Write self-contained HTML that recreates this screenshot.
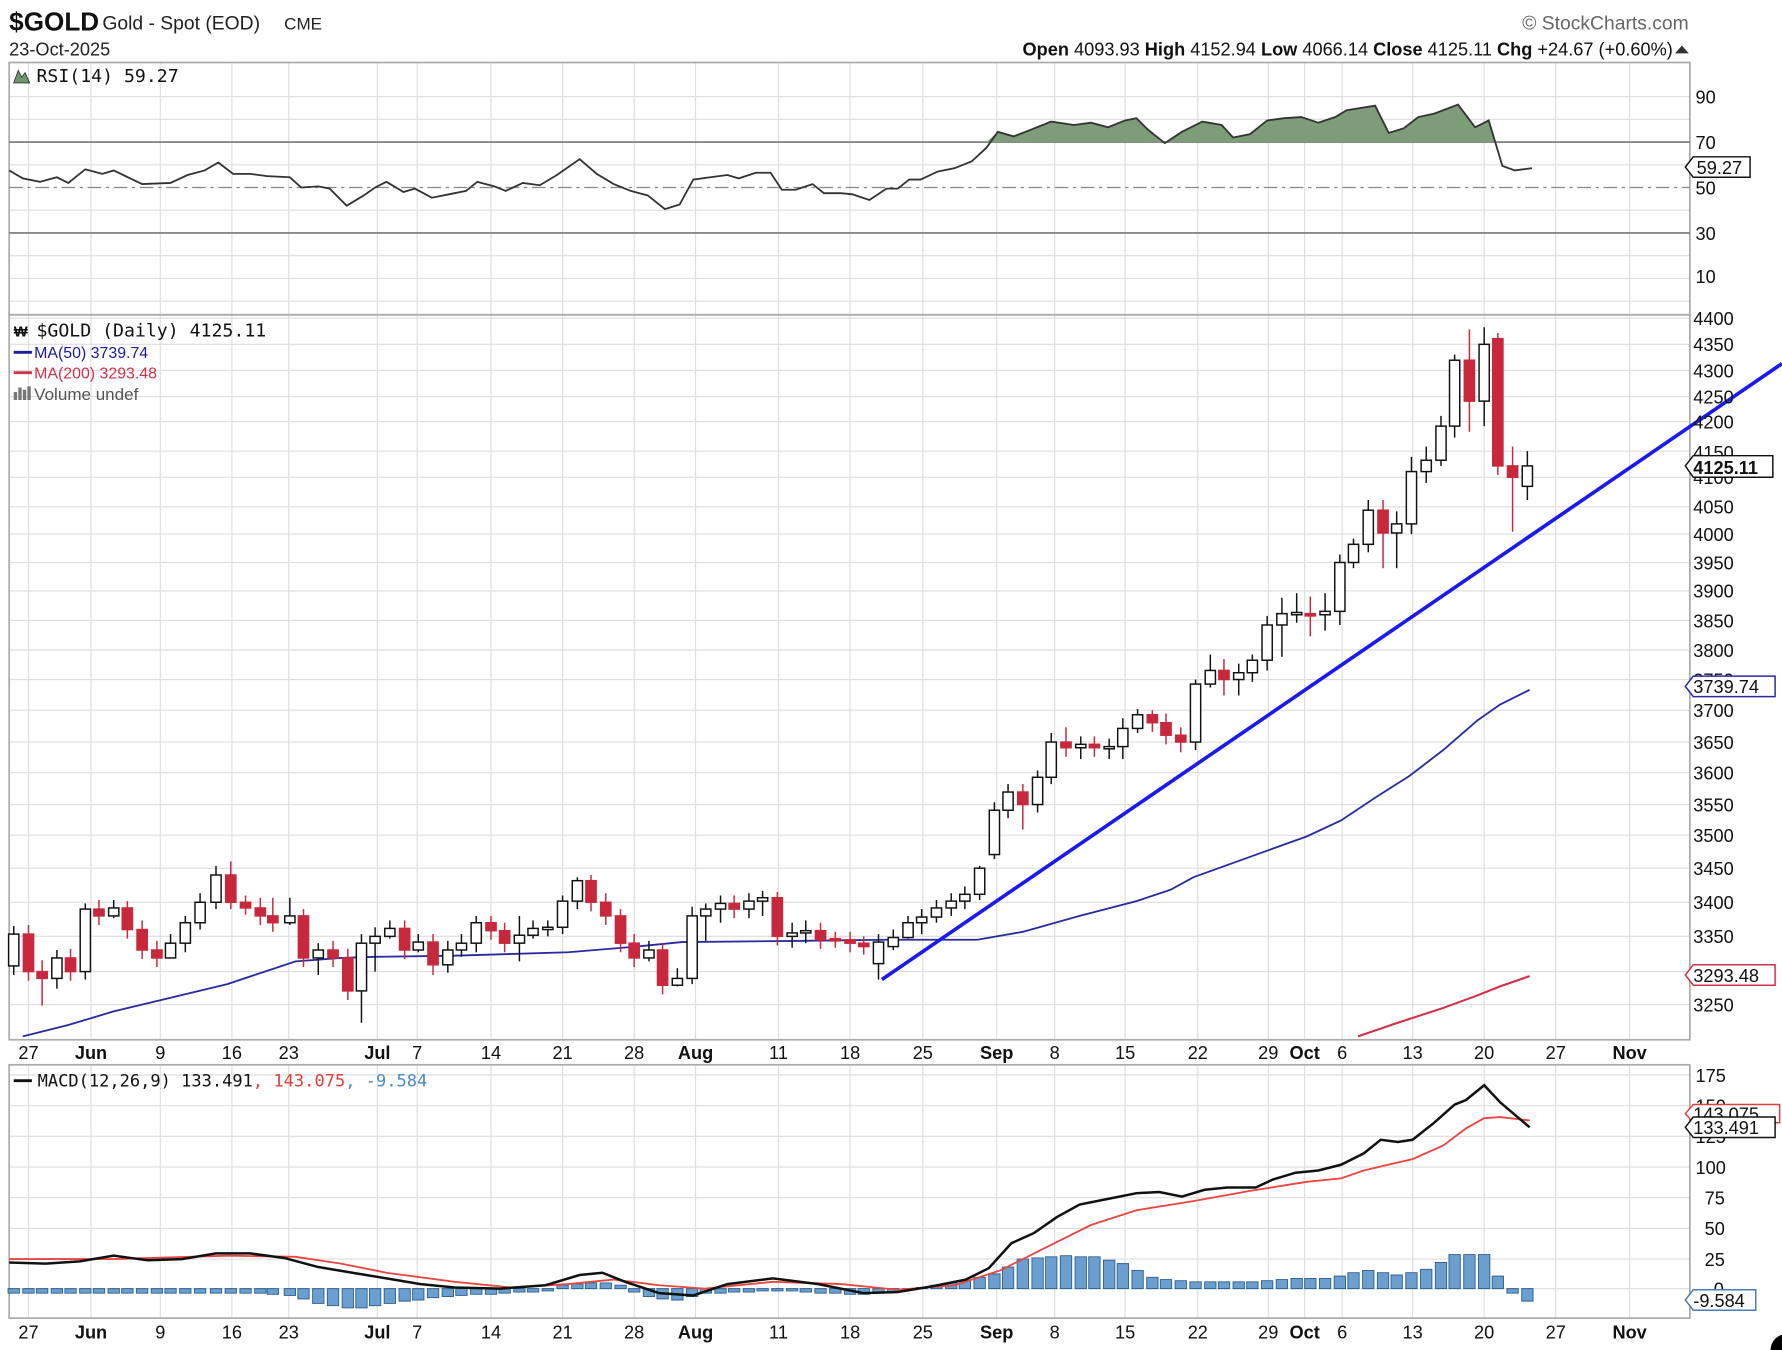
<!DOCTYPE html>
<html><head><meta charset="utf-8"><style>
html,body{margin:0;padding:0;background:#fff;}
svg{display:block;font-family:"Liberation Sans",sans-serif;}
</style></head><body>
<svg width="1782" height="1350" viewBox="0 0 1568 1188" xmlns="http://www.w3.org/2000/svg">
<rect width="1568" height="1188" fill="#fff"/>
<!-- grid -->
<g stroke="#dedede" stroke-width="1" fill="none">
<path d="M25,55V277M80,55V277M141,55V277M204,55V277M254,55V277M332,55V277M367,55V277M432,55V277M495,55V277M558,55V277M612,55V277M685,55V277M748,55V277M812,55V277M877,55V277M928,55V277M990,55V277M1054,55V277M1116,55V277M1148,55V277M1181,55V277M1243,55V277M1306,55V277M1369,55V277M1434,55V277"/>
<path d="M25,277V915M80,277V915M141,277V915M204,277V915M254,277V915M332,277V915M367,277V915M432,277V915M495,277V915M558,277V915M612,277V915M685,277V915M748,277V915M812,277V915M877,277V915M928,277V915M990,277V915M1054,277V915M1116,277V915M1148,277V915M1181,277V915M1243,277V915M1306,277V915M1369,277V915M1434,277V915"/>
<path d="M25,937V1160M80,937V1160M141,937V1160M204,937V1160M254,937V1160M332,937V1160M367,937V1160M432,937V1160M495,937V1160M558,937V1160M612,937V1160M685,937V1160M748,937V1160M812,937V1160M877,937V1160M928,937V1160M990,937V1160M1054,937V1160M1116,937V1160M1148,937V1160M1181,937V1160M1243,937V1160M1306,937V1160M1369,937V1160M1434,937V1160"/>
<path d="M8,85H1487M8,105H1487M8,145H1487M8,185H1487M8,225H1487M8,245H1487M8,265H1487"/>
<path d="M8,280H1487M8,303H1487M8,326H1487M8,349H1487M8,371H1487M8,397H1487M8,420H1487M8,446H1487M8,470H1487M8,495H1487M8,520H1487M8,546H1487M8,572H1487M8,598H1487M8,625H1487M8,653H1487M8,680H1487M8,708H1487M8,735H1487M8,764H1487M8,794H1487M8,824H1487M8,855H1487M8,884H1487"/>
<path d="M8,946H1487M8,973H1487M8,1000H1487M8,1027H1487M8,1054H1487M8,1081H1487M8,1108H1487M8,1134H1487"/>
</g>
<!-- frames -->
<g fill="none" stroke="#aaa" stroke-width="1.5">
<rect x="8" y="55" width="1479" height="222"/>
<rect x="8" y="277" width="1479" height="638"/>
<rect x="8" y="937" width="1479" height="223"/>
</g>
<line x1="8" y1="125" x2="1487" y2="125" stroke="#777" stroke-width="1.5"/>
<line x1="8" y1="205" x2="1487" y2="205" stroke="#777" stroke-width="1.5"/>
<line x1="8" y1="165" x2="1487" y2="165" stroke="#888" stroke-width="1.2" stroke-dasharray="12,4,3,4"/>
<!-- RSI -->
<path d="M866,125 L868,125 L878,116 L892,120 L905,115 L925,107 L945,110 L960,108 L975,112 L990,106 L1000,104 L1010,114 L1022,125 L1028,125 L1040,116 L1058,107 L1075,110 L1085,121 L1100,118 L1115,106 L1130,104 L1145,103 L1160,108 L1175,103 L1185,97 L1210,93 L1222,117 L1235,113 L1248,103 L1262,100 L1283,92 L1298,112 L1310,106 L1316,125 Z" fill="#7d9c78"/>
<polyline fill="none" stroke="#333" stroke-width="1.6" points="8,150 20,157 35,160 50,156 60,161 75,149 90,153 100,150 125,162 150,161 165,154 180,150 192,143 205,153 220,153 235,155 255,156 265,165 280,164 290,166 305,181 320,172 330,165 340,160 355,169 365,166 380,174 395,171 410,168 420,160 435,164 445,168 460,161 475,163 490,154 510,140 525,153 540,162 555,168 570,172 585,184 598,180 610,158 625,156 640,154 650,157 665,152 678,152 688,167 700,167 715,162 725,170 740,170 750,171 765,176 780,166 790,166 800,158 810,158 825,151 840,148 855,142 868,130 878,116 892,120 905,115 925,107 945,110 960,108 975,112 990,106 1000,104 1010,114 1025,126 1040,116 1058,107 1075,110 1085,121 1100,118 1115,106 1130,104 1145,103 1160,108 1175,103 1185,97 1210,93 1222,117 1235,113 1248,103 1262,100 1283,92 1298,112 1310,106 1322,146 1333,150 1348,148"/>
<!-- MAs -->
<polyline fill="none" stroke="#2a2aa0" stroke-width="1.6" points="20,912 60,902 100,890 150,878 200,866 230,856 260,846 300,843 330,842 400,841 500,838 560,833 600,829 700,828 780,827 860,827 900,820 950,806 1000,793 1030,783 1050,772 1100,754 1150,736 1180,722 1210,702 1240,683 1270,660 1300,634 1320,620 1346,607"/>
<polyline fill="none" stroke="#d0304a" stroke-width="1.8" points="1195,912 1230,900 1270,887 1300,876 1320,868 1346,859"/>
<!-- down candles -->
<g fill="#c8283c" stroke="#c8283c" stroke-width="1.3">
<line x1="25" y1="814" x2="25" y2="863"/><rect x="20.5" y="822" width="9" height="33"/>
<line x1="37" y1="845" x2="37" y2="885"/><rect x="32.5" y="855" width="9" height="6"/>
<line x1="62" y1="835" x2="62" y2="863"/><rect x="57.5" y="843" width="9" height="12"/>
<line x1="87" y1="792" x2="87" y2="814"/><rect x="82.5" y="800" width="9" height="6"/>
<line x1="112" y1="793" x2="112" y2="826"/><rect x="107.5" y="799" width="9" height="19"/>
<line x1="125" y1="810" x2="125" y2="844"/><rect x="120.5" y="818" width="9" height="18"/>
<line x1="138" y1="828" x2="138" y2="851"/><rect x="133.5" y="836" width="9" height="7"/>
<line x1="203" y1="758" x2="203" y2="800"/><rect x="198.5" y="770" width="9" height="24"/>
<line x1="216" y1="788" x2="216" y2="805"/><rect x="211.5" y="794" width="9" height="5"/>
<line x1="229" y1="790" x2="229" y2="814"/><rect x="224.5" y="799" width="9" height="7"/>
<line x1="240" y1="790" x2="240" y2="820"/><rect x="235.5" y="806" width="9" height="6"/>
<line x1="267" y1="800" x2="267" y2="851"/><rect x="262.5" y="806" width="9" height="37"/>
<line x1="293" y1="828" x2="293" y2="851"/><rect x="288.5" y="836" width="9" height="7"/>
<line x1="306" y1="835" x2="306" y2="880"/><rect x="301.5" y="843" width="9" height="29"/>
<line x1="356" y1="810" x2="356" y2="844"/><rect x="351.5" y="817" width="9" height="19"/>
<line x1="381" y1="822" x2="381" y2="858"/><rect x="376.5" y="829" width="9" height="20"/>
<line x1="432" y1="806" x2="432" y2="827"/><rect x="427.5" y="812" width="9" height="7"/>
<line x1="444" y1="812" x2="444" y2="838"/><rect x="439.5" y="819" width="9" height="11"/>
<line x1="520" y1="770" x2="520" y2="802"/><rect x="515.5" y="775" width="9" height="19"/>
<line x1="533" y1="786" x2="533" y2="814"/><rect x="528.5" y="794" width="9" height="12"/>
<line x1="546" y1="800" x2="546" y2="838"/><rect x="541.5" y="806" width="9" height="24"/>
<line x1="558" y1="822" x2="558" y2="851"/><rect x="553.5" y="830" width="9" height="13"/>
<line x1="583" y1="830" x2="583" y2="875"/><rect x="578.5" y="836" width="9" height="31"/>
<line x1="646" y1="788" x2="646" y2="808"/><rect x="641.5" y="795" width="9" height="5"/>
<line x1="684" y1="785" x2="684" y2="832"/><rect x="679.5" y="790" width="9" height="34"/>
<line x1="722" y1="812" x2="722" y2="835"/><rect x="717.5" y="819" width="9" height="8"/>
<line x1="735" y1="820" x2="735" y2="834"/><rect x="730.5" y="826" width="9" height="2"/>
<line x1="748" y1="820" x2="748" y2="838"/><rect x="743.5" y="827" width="9" height="3"/>
<line x1="760" y1="824" x2="760" y2="840"/><rect x="755.5" y="830" width="9" height="3"/>
<line x1="900" y1="690" x2="900" y2="730"/><rect x="895.5" y="697" width="9" height="11"/>
<line x1="938" y1="640" x2="938" y2="666"/><rect x="933.5" y="653" width="9" height="5"/>
<line x1="963" y1="648" x2="963" y2="666"/><rect x="958.5" y="655" width="9" height="3"/>
<line x1="1014" y1="625" x2="1014" y2="644"/><rect x="1009.5" y="629" width="9" height="7"/>
<line x1="1026" y1="628" x2="1026" y2="655"/><rect x="1021.5" y="636" width="9" height="11"/>
<line x1="1039" y1="640" x2="1039" y2="662"/><rect x="1034.5" y="647" width="9" height="6"/>
<line x1="1077" y1="580" x2="1077" y2="612"/><rect x="1072.5" y="590" width="9" height="8"/>
<line x1="1153" y1="525" x2="1153" y2="560"/><rect x="1148.5" y="540" width="9" height="2"/>
<line x1="1217" y1="440" x2="1217" y2="500"/><rect x="1212.5" y="449" width="9" height="20"/>
<line x1="1293" y1="290" x2="1293" y2="380"/><rect x="1288.5" y="317" width="9" height="36"/>
<line x1="1318" y1="293" x2="1318" y2="418"/><rect x="1313.5" y="298" width="9" height="112"/>
<line x1="1331" y1="393" x2="1331" y2="468"/><rect x="1326.5" y="410" width="9" height="10"/>
</g>
<!-- up candles -->
<g fill="#fff" stroke="#111" stroke-width="1.3">
<line x1="12" y1="815" x2="12" y2="858"/><rect x="7.5" y="822" width="9" height="28"/>
<line x1="50" y1="836" x2="50" y2="870"/><rect x="45.5" y="843" width="9" height="18"/>
<line x1="75" y1="795" x2="75" y2="862"/><rect x="70.5" y="800" width="9" height="55"/>
<line x1="100" y1="792" x2="100" y2="808"/><rect x="95.5" y="799" width="9" height="7"/>
<line x1="150" y1="822" x2="150" y2="840"/><rect x="145.5" y="830" width="9" height="13"/>
<line x1="163" y1="806" x2="163" y2="838"/><rect x="158.5" y="812" width="9" height="18"/>
<line x1="176" y1="786" x2="176" y2="818"/><rect x="171.5" y="794" width="9" height="18"/>
<line x1="190" y1="762" x2="190" y2="800"/><rect x="185.5" y="770" width="9" height="24"/>
<line x1="255" y1="790" x2="255" y2="814"/><rect x="250.5" y="806" width="9" height="6"/>
<line x1="280" y1="830" x2="280" y2="858"/><rect x="275.5" y="836" width="9" height="7"/>
<line x1="318" y1="822" x2="318" y2="900"/><rect x="313.5" y="830" width="9" height="42"/>
<line x1="330" y1="816" x2="330" y2="855"/><rect x="325.5" y="824" width="9" height="6"/>
<line x1="343" y1="810" x2="343" y2="826"/><rect x="338.5" y="817" width="9" height="7"/>
<line x1="368" y1="822" x2="368" y2="838"/><rect x="363.5" y="829" width="9" height="7"/>
<line x1="394" y1="828" x2="394" y2="856"/><rect x="389.5" y="836" width="9" height="13"/>
<line x1="406" y1="822" x2="406" y2="842"/><rect x="401.5" y="830" width="9" height="6"/>
<line x1="419" y1="806" x2="419" y2="838"/><rect x="414.5" y="812" width="9" height="18"/>
<line x1="457" y1="806" x2="457" y2="846"/><rect x="452.5" y="823" width="9" height="7"/>
<line x1="469" y1="810" x2="469" y2="826"/><rect x="464.5" y="817" width="9" height="6"/>
<line x1="482" y1="810" x2="482" y2="824"/><rect x="477.5" y="816" width="9" height="2"/>
<line x1="495" y1="788" x2="495" y2="822"/><rect x="490.5" y="793" width="9" height="23"/>
<line x1="508" y1="772" x2="508" y2="800"/><rect x="503.5" y="775" width="9" height="18"/>
<line x1="571" y1="828" x2="571" y2="846"/><rect x="566.5" y="836" width="9" height="7"/>
<line x1="596" y1="852" x2="596" y2="868"/><rect x="591.5" y="861" width="9" height="6"/>
<line x1="609" y1="798" x2="609" y2="866"/><rect x="604.5" y="806" width="9" height="55"/>
<line x1="621" y1="795" x2="621" y2="828"/><rect x="616.5" y="800" width="9" height="6"/>
<line x1="634" y1="788" x2="634" y2="812"/><rect x="629.5" y="795" width="9" height="5"/>
<line x1="659" y1="786" x2="659" y2="808"/><rect x="654.5" y="793" width="9" height="7"/>
<line x1="671" y1="784" x2="671" y2="806"/><rect x="666.5" y="790" width="9" height="3"/>
<line x1="697" y1="812" x2="697" y2="834"/><rect x="692.5" y="821" width="9" height="3"/>
<line x1="709" y1="810" x2="709" y2="830"/><rect x="704.5" y="819" width="9" height="2"/>
<line x1="773" y1="822" x2="773" y2="862"/><rect x="768.5" y="829" width="9" height="19"/>
<line x1="786" y1="818" x2="786" y2="836"/><rect x="781.5" y="825" width="9" height="8"/>
<line x1="799" y1="806" x2="799" y2="826"/><rect x="794.5" y="812" width="9" height="13"/>
<line x1="811" y1="800" x2="811" y2="822"/><rect x="806.5" y="807" width="9" height="5"/>
<line x1="824" y1="792" x2="824" y2="812"/><rect x="819.5" y="799" width="9" height="8"/>
<line x1="837" y1="786" x2="837" y2="806"/><rect x="832.5" y="793" width="9" height="6"/>
<line x1="849" y1="780" x2="849" y2="800"/><rect x="844.5" y="787" width="9" height="6"/>
<line x1="862" y1="762" x2="862" y2="792"/><rect x="857.5" y="764" width="9" height="23"/>
<line x1="875" y1="706" x2="875" y2="756"/><rect x="870.5" y="713" width="9" height="39"/>
<line x1="887" y1="690" x2="887" y2="720"/><rect x="882.5" y="697" width="9" height="16"/>
<line x1="913" y1="678" x2="913" y2="715"/><rect x="908.5" y="684" width="9" height="24"/>
<line x1="925" y1="645" x2="925" y2="690"/><rect x="920.5" y="653" width="9" height="31"/>
<line x1="951" y1="648" x2="951" y2="668"/><rect x="946.5" y="655" width="9" height="3"/>
<line x1="976" y1="650" x2="976" y2="668"/><rect x="971.5" y="657" width="9" height="2"/>
<line x1="988" y1="632" x2="988" y2="668"/><rect x="983.5" y="641" width="9" height="16"/>
<line x1="1001" y1="624" x2="1001" y2="645"/><rect x="996.5" y="629" width="9" height="12"/>
<line x1="1052" y1="598" x2="1052" y2="660"/><rect x="1047.5" y="602" width="9" height="51"/>
<line x1="1065" y1="576" x2="1065" y2="605"/><rect x="1060.5" y="590" width="9" height="12"/>
<line x1="1090" y1="584" x2="1090" y2="612"/><rect x="1085.5" y="592" width="9" height="6"/>
<line x1="1102" y1="576" x2="1102" y2="600"/><rect x="1097.5" y="581" width="9" height="11"/>
<line x1="1115" y1="542" x2="1115" y2="590"/><rect x="1110.5" y="550" width="9" height="31"/>
<line x1="1128" y1="526" x2="1128" y2="578"/><rect x="1123.5" y="540" width="9" height="10"/>
<line x1="1141" y1="522" x2="1141" y2="548"/><rect x="1136.5" y="539" width="9" height="2"/>
<line x1="1166" y1="522" x2="1166" y2="555"/><rect x="1161.5" y="538" width="9" height="3"/>
<line x1="1179" y1="488" x2="1179" y2="550"/><rect x="1174.5" y="495" width="9" height="43"/>
<line x1="1191" y1="474" x2="1191" y2="500"/><rect x="1186.5" y="479" width="9" height="16"/>
<line x1="1204" y1="440" x2="1204" y2="486"/><rect x="1199.5" y="449" width="9" height="30"/>
<line x1="1229" y1="450" x2="1229" y2="500"/><rect x="1224.5" y="461" width="9" height="8"/>
<line x1="1242" y1="402" x2="1242" y2="470"/><rect x="1237.5" y="415" width="9" height="46"/>
<line x1="1255" y1="393" x2="1255" y2="425"/><rect x="1250.5" y="405" width="9" height="10"/>
<line x1="1268" y1="366" x2="1268" y2="410"/><rect x="1263.5" y="375" width="9" height="30"/>
<line x1="1280" y1="312" x2="1280" y2="385"/><rect x="1275.5" y="317" width="9" height="58"/>
<line x1="1306" y1="288" x2="1306" y2="375"/><rect x="1301.5" y="303" width="9" height="50"/>
<line x1="1344" y1="397" x2="1344" y2="440"/><rect x="1339.5" y="410" width="9" height="18"/>
</g>
<line x1="776" y1="862" x2="1568" y2="320" stroke="#1a1aee" stroke-width="3.2"/>
<!-- MACD histogram -->
<g fill="#6a9fcf" stroke="#2d5f8f" stroke-width="0.8">
<path d="M7,1134h10v4h-10ZM20,1134h10v4h-10ZM32,1134h10v4h-10ZM45,1134h10v4h-10ZM57,1134h10v4h-10ZM70,1134h10v4h-10ZM82,1134h10v4h-10ZM95,1134h10v4h-10ZM107,1134h10v4h-10ZM120,1134h10v4h-10ZM133,1134h10v4h-10ZM145,1134h10v4h-10ZM158,1134h10v4h-10ZM171,1134h10v4h-10ZM185,1134h10v4h-10ZM198,1134h10v4h-10ZM211,1134h10v4h-10ZM224,1134h10v4h-10ZM235,1134h10v5h-10ZM250,1134h10v6h-10ZM262,1134h10v9h-10ZM275,1134h10v13h-10ZM288,1134h10v15h-10ZM301,1134h10v17h-10ZM313,1134h10v17h-10ZM325,1134h10v15h-10ZM338,1134h10v13h-10ZM351,1134h10v11h-10ZM363,1134h10v10h-10ZM376,1134h10v8h-10ZM389,1134h10v7h-10ZM401,1134h10v6h-10ZM414,1134h10v5h-10ZM427,1134h10v5h-10ZM439,1134h10v4h-10ZM452,1134h10v3h-10ZM464,1134h10v3h-10ZM477,1134h10v2h-10Z"/>
<path d="M490,1134h10v-3h-10ZM503,1134h10v-4h-10ZM515,1134h10v-5h-10ZM528,1134h10v-5h-10ZM541,1134h10v-3h-10Z"/>
<path d="M553,1134h10v3h-10ZM566,1134h10v7h-10ZM578,1134h10v9h-10ZM591,1134h10v10h-10ZM604,1134h10v7h-10ZM616,1134h10v4h-10ZM629,1134h10v4h-10ZM641,1134h10v3h-10ZM654,1134h10v3h-10ZM666,1134h10v2h-10ZM679,1134h10v2h-10ZM692,1134h10v2h-10ZM704,1134h10v3h-10ZM717,1134h10v4h-10ZM730,1134h10v4h-10ZM743,1134h10v5h-10ZM755,1134h10v5h-10ZM768,1134h10v4h-10ZM781,1134h10v3h-10ZM794,1134h10v1h-10Z"/>
<path d="M806,1134h10v-1h-10ZM819,1134h10v-3h-10ZM832,1134h10v-5h-10ZM844,1134h10v-7h-10ZM857,1134h10v-10h-10ZM870,1134h10v-13h-10ZM882,1134h10v-19h-10ZM895,1134h10v-26h-10ZM908,1134h10v-27h-10ZM920,1134h10v-28h-10ZM933,1134h10v-29h-10ZM946,1134h10v-28h-10ZM958,1134h10v-28h-10ZM971,1134h10v-25h-10ZM983,1134h10v-22h-10ZM996,1134h10v-16h-10ZM1009,1134h10v-10h-10ZM1021,1134h10v-8h-10ZM1034,1134h10v-7h-10ZM1047,1134h10v-6h-10ZM1060,1134h10v-6h-10ZM1072,1134h10v-6h-10ZM1085,1134h10v-6h-10ZM1097,1134h10v-6h-10ZM1110,1134h10v-7h-10ZM1123,1134h10v-8h-10ZM1136,1134h10v-9h-10ZM1148,1134h10v-9h-10ZM1161,1134h10v-9h-10ZM1174,1134h10v-11h-10ZM1186,1134h10v-14h-10ZM1199,1134h10v-16h-10ZM1212,1134h10v-14h-10ZM1224,1134h10v-12h-10ZM1237,1134h10v-14h-10ZM1250,1134h10v-17h-10ZM1263,1134h10v-23h-10ZM1275,1134h10v-30h-10ZM1288,1134h10v-30h-10ZM1301,1134h10v-30h-10ZM1313,1134h10v-11h-10Z"/>
<path d="M1326,1134h10v4h-10ZM1339,1134h10v11h-10Z"/>
</g>
<polyline fill="none" stroke="#e8463e" stroke-width="1.6" points="8,1108 100,1108 200,1105 260,1106 300,1112 340,1120 400,1128 450,1133 500,1130 540,1126 580,1131 620,1134 680,1128 740,1130 790,1135 840,1131 880,1118 920,1098 960,1078 1000,1065 1050,1057 1100,1048 1150,1040 1180,1037 1200,1030 1243,1020 1270,1008 1290,993 1306,984 1320,983 1346,986"/>
<polyline fill="none" stroke="#111" stroke-width="2.2" points="8,1111 40,1112 70,1110 100,1105 130,1109 160,1108 190,1103 220,1103 250,1107 280,1115 310,1120 340,1125 370,1130 400,1133 440,1134 480,1131 510,1122 530,1120 550,1128 580,1138 610,1140 640,1130 680,1125 720,1130 760,1138 790,1137 820,1132 850,1126 870,1116 890,1094 910,1085 930,1071 950,1060 975,1055 1000,1050 1020,1049 1040,1053 1060,1047 1080,1045 1105,1045 1120,1038 1140,1032 1160,1030 1180,1025 1200,1015 1215,1003 1230,1005 1243,1003 1262,988 1280,972 1290,968 1306,955 1320,970 1346,992"/>
<!-- header -->
<text x="8" y="27" font-size="23" font-weight="bold" fill="#111">$GOLD</text>
<text x="90" y="26" font-size="17" fill="#222">Gold - Spot (EOD)</text>
<text x="250" y="26" font-size="15" fill="#222">CME</text>
<text x="8" y="49" font-size="16" fill="#222">23-Oct-2025</text>
<text x="1486" y="26" font-size="17" fill="#666" text-anchor="end">© StockCharts.com</text>
<text x="1472" y="49" font-size="16" fill="#111" text-anchor="end"><tspan font-weight="bold">Open</tspan> 4093.93  <tspan font-weight="bold">High</tspan> 4152.94  <tspan font-weight="bold">Low</tspan> 4066.14  <tspan font-weight="bold">Close</tspan> 4125.11  <tspan font-weight="bold">Chg</tspan> +24.67 (+0.60%)</text>
<path d="M1474,47 L1486,47 L1480,40 Z" fill="#333"/>
<!-- legends -->
<path d="M12,73 L16,62 L19,68 L22,64 L26,73 Z" fill="#6d9a6a" stroke="#333" stroke-width="0.8"/>
<text x="32" y="72" font-size="16" fill="#111" font-family="DejaVu Sans Mono, monospace">RSI(14) 59.27</text>
<text x="12" y="296" font-size="13" font-weight="bold" fill="#111">₩</text>
<text x="32" y="296" font-size="16" fill="#111" font-family="DejaVu Sans Mono, monospace">$GOLD (Daily) 4125.11</text>
<line x1="12" y1="310" x2="28" y2="310" stroke="#1a1a9a" stroke-width="2.5"/>
<text x="30" y="315" font-size="14" fill="#1a1a9a">MA(50) 3739.74</text>
<line x1="12" y1="328" x2="28" y2="328" stroke="#d0304a" stroke-width="2.5"/>
<text x="30" y="333" font-size="14" fill="#d0304a">MA(200) 3293.48</text>
<g fill="#777"><rect x="12" y="345" width="3" height="7"/><rect x="16" y="341" width="3" height="11"/><rect x="20" y="343" width="3" height="9"/><rect x="24" y="340" width="3" height="12"/></g>
<text x="30" y="352" font-size="15" fill="#555">Volume undef</text>
<line x1="12" y1="951" x2="28" y2="951" stroke="#111" stroke-width="2.5"/>
<text x="33" y="956" font-size="15" fill="#111" font-family="DejaVu Sans Mono, monospace">MACD(12,26,9) 133.491<tspan fill="#e0403a">, 143.075</tspan><tspan fill="#4a8ac8">, -9.584</tspan></text>
<!-- right axis labels -->
<g font-size="16" fill="#111">
<text x="1492" y="91">90</text><text x="1492" y="131">70</text><text x="1492" y="171">50</text><text x="1492" y="211">30</text><text x="1492" y="249">10</text>
<text x="1490" y="286">4400</text><text x="1490" y="309">4350</text><text x="1490" y="332">4300</text><text x="1490" y="355">4250</text><text x="1490" y="377">4200</text><text x="1490" y="404">4150</text><text x="1490" y="426">4100</text><text x="1490" y="452">4050</text><text x="1490" y="476">4000</text><text x="1490" y="501">3950</text><text x="1490" y="526">3900</text><text x="1490" y="552">3850</text><text x="1490" y="578">3800</text><text x="1490" y="604">3750</text><text x="1490" y="631">3700</text><text x="1490" y="659">3650</text><text x="1490" y="686">3600</text><text x="1490" y="714">3550</text><text x="1490" y="741">3500</text><text x="1490" y="770">3450</text><text x="1490" y="800">3400</text><text x="1490" y="830">3350</text><text x="1490" y="861">3300</text><text x="1490" y="890">3250</text>
<text x="1492" y="952">175</text><text x="1492" y="979">150</text><text x="1492" y="1006">125</text><text x="1492" y="1033">100</text><text x="1500" y="1060">75</text><text x="1500" y="1087">50</text><text x="1500" y="1114">25</text><text x="1508" y="1140">0</text>
</g>
<!-- value tags -->
<g font-size="16" stroke-width="1.3" fill="#fff">
<path d="M1490,138 L1540,138 L1540,156 L1490,156 L1483,147 Z" stroke="#111"/>
<text x="1493" y="153" fill="#111" stroke="none">59.27</text>
<path d="M1490,401 L1560,401 L1560,420 L1490,420 L1483,410 Z" stroke="#111"/>
<text x="1490" y="417" fill="#111" stroke="none" font-weight="bold">4125.11</text>
<path d="M1490,595 L1562,595 L1562,613 L1490,613 L1483,604 Z" stroke="#2a2aa0"/>
<text x="1490" y="610" fill="#111" stroke="none">3739.74</text>
<path d="M1490,849 L1562,849 L1562,867 L1490,867 L1483,858 Z" stroke="#d0304a"/>
<text x="1490" y="864" fill="#111" stroke="none">3293.48</text>
<path d="M1490,972 L1566,972 L1566,988 L1490,988 L1483,980 Z" stroke="#e0403a"/>
<text x="1490" y="986" fill="#111" stroke="none">143.075</text>
<path d="M1490,983 L1562,983 L1562,1001 L1490,1001 L1483,992 Z" stroke="#111"/>
<text x="1490" y="998" fill="#111" stroke="none">133.491</text>
<path d="M1490,1135 L1545,1135 L1545,1153 L1490,1153 L1483,1144 Z" stroke="#4a7ab8"/>
<text x="1490" y="1150" fill="#111" stroke="none">-9.584</text>
</g>
<!-- date labels -->
<g font-size="16" fill="#111" text-anchor="middle">
<text x="25" y="932">27</text><text x="80" y="932" font-weight="bold">Jun</text><text x="141" y="932">9</text><text x="204" y="932">16</text><text x="254" y="932">23</text><text x="332" y="932" font-weight="bold">Jul</text><text x="367" y="932">7</text><text x="432" y="932">14</text><text x="495" y="932">21</text><text x="558" y="932">28</text><text x="612" y="932" font-weight="bold">Aug</text><text x="685" y="932">11</text><text x="748" y="932">18</text><text x="812" y="932">25</text><text x="877" y="932" font-weight="bold">Sep</text><text x="928" y="932">8</text><text x="990" y="932">15</text><text x="1054" y="932">22</text><text x="1116" y="932">29</text><text x="1148" y="932" font-weight="bold">Oct</text><text x="1181" y="932">6</text><text x="1243" y="932">13</text><text x="1306" y="932">20</text><text x="1369" y="932">27</text><text x="1434" y="932" font-weight="bold">Nov</text>
</g>
<g font-size="16" fill="#111" text-anchor="middle">
<text x="25" y="1178">27</text><text x="80" y="1178" font-weight="bold">Jun</text><text x="141" y="1178">9</text><text x="204" y="1178">16</text><text x="254" y="1178">23</text><text x="332" y="1178" font-weight="bold">Jul</text><text x="367" y="1178">7</text><text x="432" y="1178">14</text><text x="495" y="1178">21</text><text x="558" y="1178">28</text><text x="612" y="1178" font-weight="bold">Aug</text><text x="685" y="1178">11</text><text x="748" y="1178">18</text><text x="812" y="1178">25</text><text x="877" y="1178" font-weight="bold">Sep</text><text x="928" y="1178">8</text><text x="990" y="1178">15</text><text x="1054" y="1178">22</text><text x="1116" y="1178">29</text><text x="1148" y="1178" font-weight="bold">Oct</text><text x="1181" y="1178">6</text><text x="1243" y="1178">13</text><text x="1306" y="1178">20</text><text x="1369" y="1178">27</text><text x="1434" y="1178" font-weight="bold">Nov</text>
</g>
<circle cx="1572" cy="1188" r="14" fill="#000"/>
</svg>
</body></html>
